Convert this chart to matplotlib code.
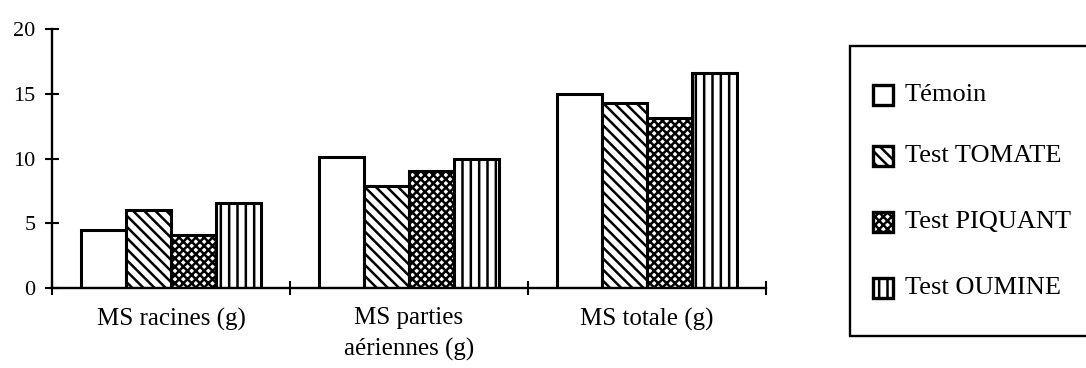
import matplotlib
matplotlib.use("Agg")
import matplotlib.pyplot as plt
from matplotlib.patches import Rectangle
import numpy as np

categories = ["MS racines (g)", "MS parties\naériennes (g)", "MS totale (g)"]
series_names = ["Témoin", "Test TOMATE", "Test PIQUANT", "Test OUMINE"]
temoin = [4.5, 10.1, 15.0]
tomate = [6.0, 7.9, 14.3]
piquant = [4.1, 9.0, 13.1]
oumine = [6.6, 10.0, 16.6]
y_ticks = [0, 5, 10, 15, 20]

series_values = [temoin, tomate, piquant, oumine]
hatches = ["", "\\\\\\", "xxxx", "||"]

plt.rcParams["font.family"] = ["Liberation Serif", "DejaVu Serif"]
plt.rcParams["hatch.linewidth"] = 1.8

W, H = 1086, 368
fig = plt.figure(figsize=(W / 100, H / 100), dpi=100)
ax = fig.add_axes([52 / W, 1 - 288 / H, (766 - 52) / W, (288 - 29) / H])

x = np.arange(len(categories))
bw = 0.19
for i, (vals, hat) in enumerate(zip(series_values, hatches)):
    ax.bar(x + (i - 1.5) * bw, vals, width=bw, facecolor="white",
           edgecolor="black", hatch=hat, linewidth=2.2, zorder=2)

ax.set_xlim(-0.5, len(categories) - 0.5)
ax.set_ylim(0, 20)
ax.set_yticks(y_ticks)
ax.set_yticklabels([str(v) for v in y_ticks], fontsize=16)

ax.set_xticks(x)
ax.set_xticklabels(categories, fontsize=18, linespacing=1.5)
ax.set_xticks(np.arange(len(categories) + 1) - 0.5, minor=True)
ax.tick_params(axis="x", which="major", length=0, pad=14)
ax.tick_params(axis="x", which="minor", direction="inout", length=10, width=1.5)
ax.tick_params(axis="y", direction="inout", length=10, width=1.5, pad=7)

for s in ["top", "right"]:
    ax.spines[s].set_visible(False)
for s in ["left", "bottom"]:
    ax.spines[s].set_linewidth(1.7)

# Legend drawn as a framed panel on the right
fig.add_artist(Rectangle((850 / W, 1 - 336 / H), 1.0, (336 - 46) / H,
                         transform=fig.transFigure, facecolor="white",
                         edgecolor="black", linewidth=1.7))
entry_y = [95, 156, 222, 288]
for name, hat, yy in zip(series_names, hatches, entry_y):
    fig.add_artist(Rectangle((873 / W, 1 - (yy + 10) / H), 20 / W, 20 / H,
                             transform=fig.transFigure, facecolor="white",
                             edgecolor="black", hatch=hat, linewidth=2.4))
    fig.text(905 / W, 1 - yy / H, name, fontsize=19, va="center", ha="left")

fig.savefig("out.png", dpi=100)
